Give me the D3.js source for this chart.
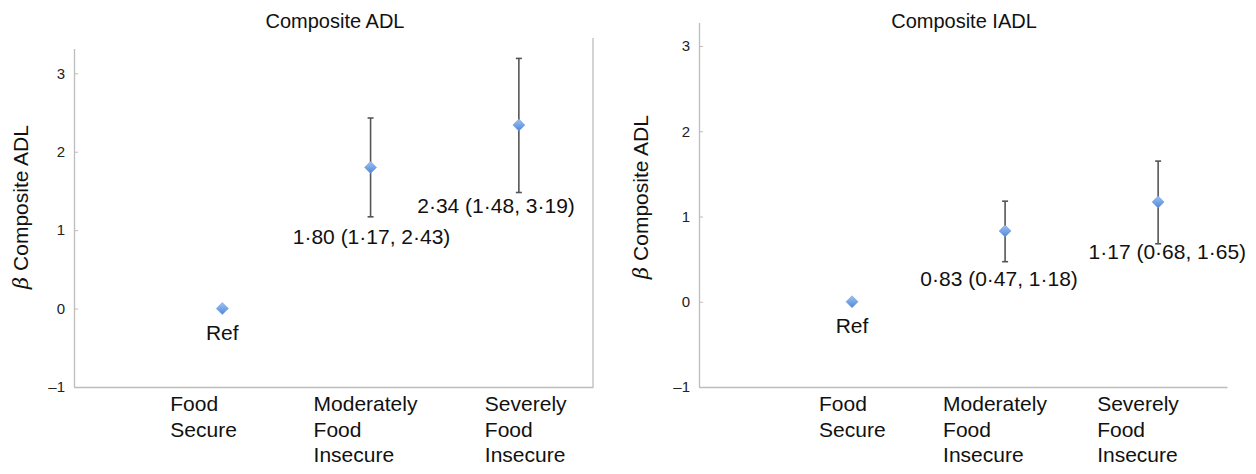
<!DOCTYPE html>
<html>
<head>
<meta charset="utf-8">
<script src="https://cdn.jsdelivr.net/npm/d3@7"></script>
<style>
  html, body { margin: 0; padding: 0; background: #fff; }
  svg { display: block; font-family: "Liberation Sans", Arial, Helvetica, sans-serif; }
</style>
</head>
<body>
<svg id="chart" width="1256" height="474"></svg>
<script>
// ---------- DATA ----------
const categories = [["Food", "Secure"], ["Moderately", "Food", "Insecure"], ["Severely", "Food", "Insecure"]];
const yTicks = [-1, 0, 1, 2, 3];
const yTickLabels = ["\u20131", "0", "1", "2", "3"];

const adlTitle = "Composite ADL";
const adlEstimate = [0, 1.80, 2.34];
const adlLower = [null, 1.17, 1.48];
const adlUpper = [null, 2.43, 3.19];
const adlLabels = ["Ref", "1\u00b780 (1\u00b717, 2\u00b743)", "2\u00b734 (1\u00b748, 3\u00b719)"];

const iadlTitle = "Composite IADL";
const iadlEstimate = [0, 0.83, 1.17];
const iadlLower = [null, 0.47, 0.68];
const iadlUpper = [null, 1.18, 1.65];
const iadlLabels = ["Ref", "0\u00b783 (0\u00b747, 1\u00b718)", "1\u00b717 (0\u00b768, 1\u00b765)"];

const yAxisTitle = "Composite ADL";

// ---------- LAYOUT ----------
const panels = [
  {
    title: adlTitle, est: adlEstimate, lo: adlLower, hi: adlUpper, labels: adlLabels,
    x0: 74, x1: 593, xMax: 3.5, yTop: 49, yBottom: 387, yDomain: [-1, 3.31],
    border: true, borderTop: 38, titleX: 335, yTitleX: 28, yTitleY: 207,
    catDx: [-52, -57, -34],
    lab: [{dx: 0, anchor: "middle", ref: "est", dy: 31},
          {dx: 1, anchor: "middle", ref: "lo", dy: 27},
          {dx: 56, anchor: "end", ref: "lo", dy: 20}]
  },
  {
    title: iadlTitle, est: iadlEstimate, lo: iadlLower, hi: iadlUpper, labels: iadlLabels,
    x0: 699, x1: 1227, xMax: 3.45, yTop: 23, yBottom: 387, yDomain: [-1, 3.27],
    border: false, titleX: 964, yTitleX: 648, yTitleY: 197,
    catDx: [-33, -62, -61],
    lab: [{dx: 0, anchor: "middle", ref: "est", dy: 31},
          {dx: -6, anchor: "middle", ref: "lo", dy: 24},
          {dx: 88, anchor: "end", ref: "lo", dy: 15}]
  }
];

const svg = d3.select("#chart");
const defs = svg.append("defs");
const grad = defs.append("linearGradient").attr("id", "dia").attr("x1", "0").attr("y1", "0").attr("x2", "0").attr("y2", "1");
grad.append("stop").attr("offset", "0%").attr("stop-color", "#9fc3f2");
grad.append("stop").attr("offset", "100%").attr("stop-color", "#4f86d8");

const axisColor = "#bdbdbd";

panels.forEach(p => {
  const g = svg.append("g");
  const x = d3.scaleLinear().domain([0, p.xMax]).range([p.x0, p.x1]);
  const y = d3.scaleLinear().domain(p.yDomain).range([p.yBottom, p.yTop]);

  // y axis
  const yAxis = d3.axisRight(y).tickValues(yTicks).tickSize(4).tickFormat(() => "");
  const ya = g.append("g").attr("transform", `translate(${p.x0},0)`).call(yAxis);
  ya.select(".domain").attr("stroke", axisColor).attr("stroke-width", 1.3).attr("d", `M0.5,${p.yTop}V${p.yBottom}`);
  ya.selectAll(".tick line").attr("stroke", axisColor).attr("stroke-width", 1);

  // tick labels
  g.selectAll(".ylab").data(yTicks).join("text")
    .attr("x", p.x0 - 9).attr("y", d => y(d)).attr("dy", "0.35em")
    .attr("text-anchor", "end").attr("font-size", 15).attr("fill", "#222")
    .text((d, i) => yTickLabels[i]);

  // bottom axis line
  const xAxis = d3.axisBottom(x).tickValues([]).tickSizeOuter(0);
  const xa = g.append("g").attr("transform", `translate(0,${p.yBottom})`).call(xAxis);
  xa.select(".domain").attr("stroke", axisColor).attr("stroke-width", 1.3);

  if (p.border) {
    g.append("line").attr("x1", p.x1).attr("x2", p.x1).attr("y1", p.borderTop).attr("y2", p.yBottom)
      .attr("stroke", axisColor).attr("stroke-width", 1.3);
  }

  // title
  g.append("text").attr("x", p.titleX).attr("y", 28).attr("text-anchor", "middle")
    .attr("font-size", 20).attr("fill", "#111").text(p.title);

  // y axis title
  const yt = g.append("text")
    .attr("transform", `translate(${p.yTitleX},${p.yTitleY}) rotate(-90)`)
    .attr("text-anchor", "middle").attr("font-size", 21).attr("fill", "#111");
  yt.append("tspan").attr("font-style", "italic").attr("font-family", "'DejaVu Serif', serif").text("\u03b2");
  yt.append("tspan").text("\u00a0" + yAxisTitle);

  // category labels
  categories.forEach((lines, i) => {
    const t = g.append("text").attr("font-size", 21).attr("fill", "#111");
    lines.forEach((ln, j) => {
      t.append("tspan").attr("x", x(i + 1) + p.catDx[i]).attr("y", 411 + j * 25.5).text(ln);
    });
  });

  // error bars
  const idx = d3.range(p.est.length).filter(i => p.lo[i] != null);
  g.selectAll(".eb").data(idx).join("line")
    .attr("x1", i => x(i + 1)).attr("x2", i => x(i + 1))
    .attr("y1", i => y(p.lo[i])).attr("y2", i => y(p.hi[i]))
    .attr("stroke", "#555").attr("stroke-width", 1.6);
  [p.lo, p.hi].forEach(arr => {
    g.selectAll(null).data(idx).join("line")
      .attr("x1", i => x(i + 1) - 3).attr("x2", i => x(i + 1) + 3)
      .attr("y1", i => y(arr[i])).attr("y2", i => y(arr[i]))
      .attr("stroke", "#555").attr("stroke-width", 1.6);
  });

  // diamonds
  g.selectAll(".pt").data(p.est).join("path")
    .attr("transform", (d, i) => `translate(${x(i + 1)},${y(d)})`)
    .attr("d", "M0,-6L6,0L0,6L-6,0Z")
    .attr("fill", "url(#dia)").attr("stroke", "#6f9de0").attr("stroke-width", 0.6);

  // data labels
  p.labels.forEach((lbl, i) => {
    const L = p.lab[i];
    const base = L.ref === "est" ? p.est[i] : p.lo[i];
    g.append("text").attr("x", x(i + 1) + L.dx).attr("y", y(base) + L.dy)
      .attr("text-anchor", L.anchor).attr("font-size", 21).attr("fill", "#111").text(lbl);
  });
});
</script>
</body>
</html>
